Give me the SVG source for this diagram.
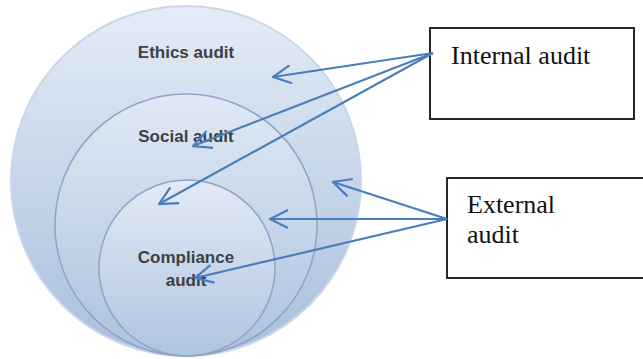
<svg xmlns="http://www.w3.org/2000/svg" width="643" height="359" viewBox="0 0 643 359">
  <style>
    .lbl { font-family: "Liberation Sans", Arial, sans-serif; font-weight: bold; font-size: 17px; fill: #404040; text-anchor: middle; }
    .box { fill: #ffffff; stroke: #262626; stroke-width: 2; }
    .boxtxt { font-family: "Liberation Serif", "Times New Roman", serif; font-size: 26px; fill: #111111; }
    .conn { fill: none; stroke: #4a7ebb; stroke-width: 2.2; marker-end: url(#vhead); }
    .ring { stroke: #8fa3c6; stroke-width: 1.5; }
  </style>
  <defs>
    <linearGradient id="g1" x1="0" y1="0" x2="0" y2="1">
      <stop offset="0" stop-color="#e4ecf6"/>
      <stop offset="1" stop-color="#a9bfdd"/>
    </linearGradient>
    <linearGradient id="g2" x1="0" y1="0" x2="0" y2="1">
      <stop offset="0" stop-color="#e0e9f4"/>
      <stop offset="1" stop-color="#adc2de"/>
    </linearGradient>
    <linearGradient id="g3" x1="0" y1="0" x2="0" y2="1">
      <stop offset="0" stop-color="#e2eaf5"/>
      <stop offset="1" stop-color="#b0c4e0"/>
    </linearGradient>
    <marker id="vhead" viewBox="0 0 20 20" refX="19" refY="10" markerWidth="20" markerHeight="20" markerUnits="userSpaceOnUse" orient="auto">
      <path d="M1,1 L19,10 L1,19" fill="none" stroke="#4a7ebb" stroke-width="2.2"/>
    </marker>
  </defs>

  <g id="ethics">
    <circle cx="186" cy="181" r="175" fill="url(#g1)" stroke="#c9d7ea" stroke-width="2"/>
    <text class="lbl" x="186" y="58">Ethics audit</text>
  </g>
  <g id="social">
    <circle class="ring" cx="186" cy="225" r="131" fill="url(#g2)"/>
    <text class="lbl" x="186" y="142">Social audit</text>
  </g>
  <g id="compliance">
    <circle class="ring" cx="187" cy="268" r="88" fill="url(#g3)"/>
    <text class="lbl" x="186" y="263">Compliance</text>
    <text class="lbl" x="186" y="286">audit</text>
  </g>

  <g id="internal">
    <rect class="box" x="430" y="28" width="204" height="91"/>
    <text class="boxtxt" x="451" y="64">Internal audit</text>
  </g>
  <g id="external">
    <rect class="box" x="447" y="178" width="200" height="100"/>
    <text class="boxtxt" x="467" y="213">External</text>
    <text class="boxtxt" x="467" y="243">audit</text>
  </g>

  <g id="connectors">
    <line class="conn" x1="433" y1="53" x2="273" y2="77"/>
    <line class="conn" x1="433" y1="53" x2="193" y2="146"/>
    <line class="conn" x1="433" y1="53" x2="159" y2="204"/>
    <line class="conn" x1="447" y1="219" x2="333" y2="182"/>
    <line class="conn" x1="447" y1="219" x2="270" y2="219"/>
    <line class="conn" x1="447" y1="219" x2="195" y2="278"/>
  </g>
</svg>
